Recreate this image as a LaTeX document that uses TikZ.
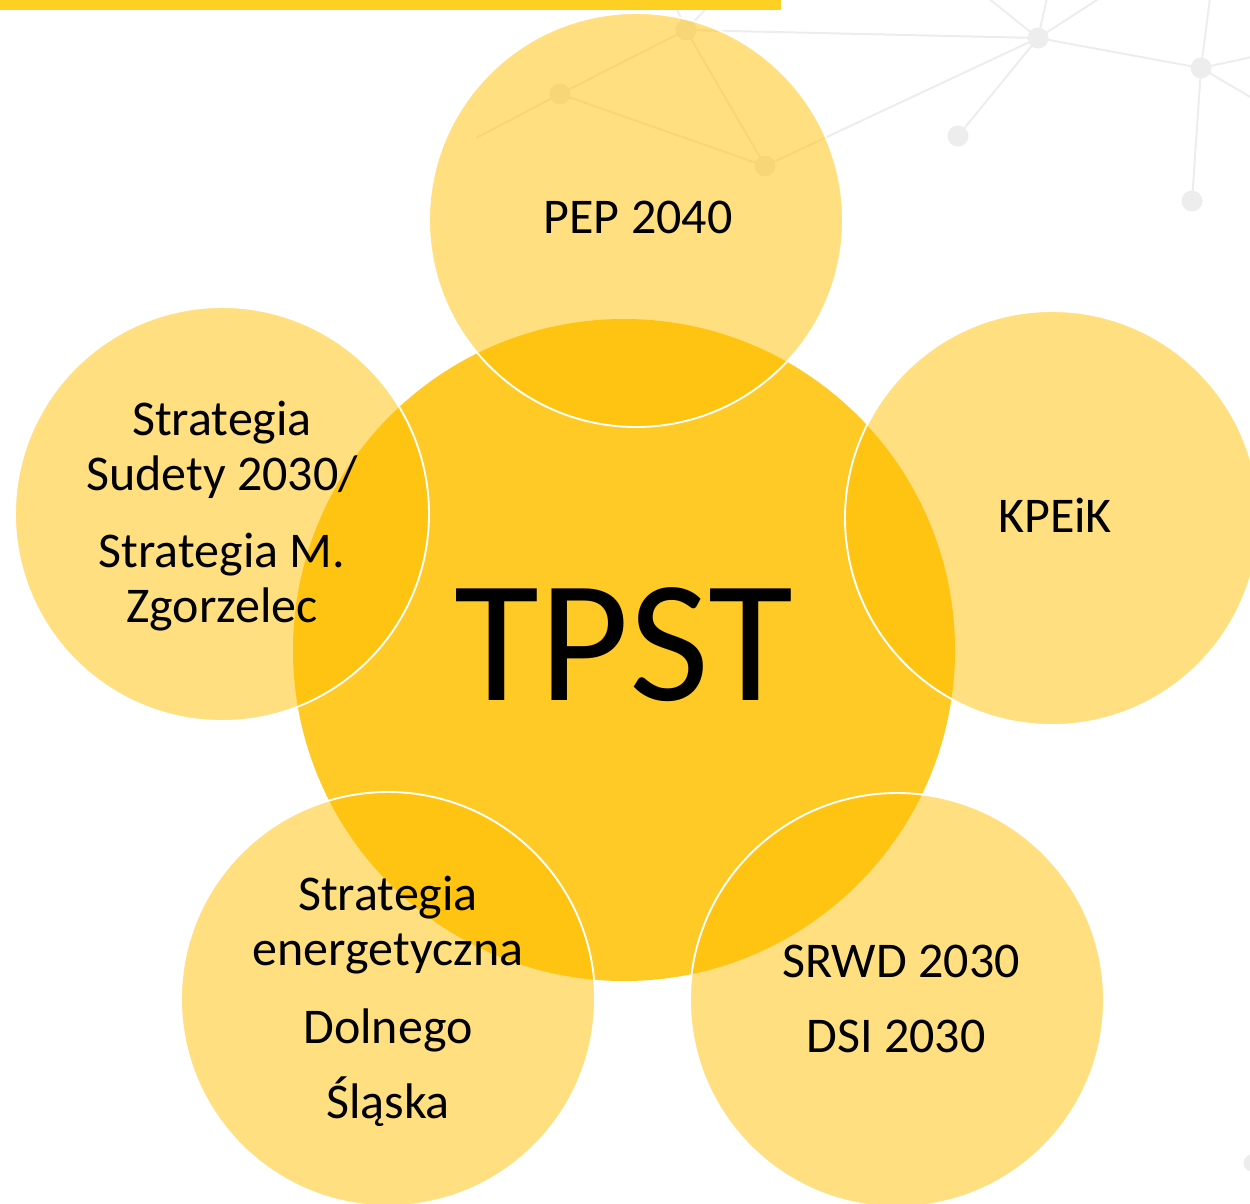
\documentclass[tikz,border=0pt]{standalone}
\usepackage{fontspec}
\setmainfont{Carlito}
\definecolor{netgrey}{RGB}{237,237,237}
\definecolor{baryellow}{RGB}{253,208,35}
\definecolor{gold}{RGB}{255,192,0}
\definecolor{centeryellow}{RGB}{255,201,38}
\begin{document}
\begin{tikzpicture}[x=1pt,y=-1pt,
  netline/.style={draw=netgrey,line width=2pt},
  netdot/.style={circle,fill=netgrey,inner sep=0pt,minimum size=21pt},
  outer/.style={circle,fill=gold,fill opacity=0.5,draw=white,line width=1.9pt,inner sep=0pt,minimum size=414pt},
  lbl/.style={anchor=base,inner sep=0pt,font=\fontsize{50}{58}\selectfont},
]
\useasboundingbox (0,0) rectangle (1250,1203);
% background network
\node[netdot] (A) at (686,30) {};
\node[netdot] (B) at (560,94) {};
\node[netdot] (C) at (765,166) {};
\node[netdot] (D) at (1038,38) {};
\node[netdot] (E) at (958,136) {};
\node[netdot] (F) at (1201,68) {};
\node[netdot] (G) at (1192,201) {};
\node[netdot,minimum size=17pt] (H) at (1252,1163) {};
\coordinate (b1) at (476,138);
\coordinate (a1) at (672,-2);
\coordinate (a2) at (716,-2);
\coordinate (d1) at (988,-2);
\coordinate (d2) at (1047,-2);
\coordinate (d3) at (1100,-2);
\coordinate (f1) at (1210,-2);
\coordinate (f2) at (1252,57);
\coordinate (f3) at (1252,98);
\draw[netline] (B.center) -- (b1);
\draw[netline] (A.center) -- (B.center);
\draw[netline] (A.center) -- (C.center);
\draw[netline] (B.center) -- (C.center);
\draw[netline] (C.center) -- (D.center);
\draw[netline] (A.center) -- (D.center);
\draw[netline] (A.center) -- (a1);
\draw[netline] (A.center) -- (a2);
\draw[netline] (D.center) -- (E.center);
\draw[netline] (D.center) -- (F.center);
\draw[netline] (D.center) -- (d1);
\draw[netline] (D.center) -- (d2);
\draw[netline] (D.center) -- (d3);
\draw[netline] (F.center) -- (G.center);
\draw[netline] (F.center) -- (f1);
\draw[netline] (F.center) -- (f2);
\draw[netline] (F.center) -- (f3);
% top bar
\fill[baryellow] (0,0) rectangle (781,10);
% central circle
\node[circle,fill=centeryellow,inner sep=0pt,minimum size=662pt] (ctr) at (624,650) {};
% outer circles
\node[outer] (top) at (636,220) {};
\node[outer] (left) at (222,514) {};
\node[outer] (right) at (1052,518) {};
\node[outer] (bl) at (388,999) {};
\node[outer] (br) at (897,1000) {};
% texts
\node[anchor=base,inner sep=0pt,font=\fontsize{174}{200}\selectfont] (tpst) at (624,700) {TPST};
\node[lbl] (t1) at (638,233) {PEP 2040};
\node[lbl] (r1) at (1055,532) {KPEiK};
\node[lbl] (l1) at (222,435) {Strategia};
\node[lbl] (l2) at (222,490) {Sudety 2030/};
\node[lbl] (l3) at (222,567) {Strategia M.};
\node[lbl] (l4) at (222,622) {Zgorzelec};
\node[lbl] (bl1) at (388,910) {Strategia};
\node[lbl] (bl2) at (388,965) {energetyczna};
\node[lbl] (bl3) at (388,1043) {Dolnego};
\node[lbl] (bl4) at (388,1118) {Śląska};
\node[lbl] (br1) at (901,977) {SRWD 2030};
\node[lbl] (br2) at (896,1052) {DSI 2030};
\end{tikzpicture}
\end{document}
